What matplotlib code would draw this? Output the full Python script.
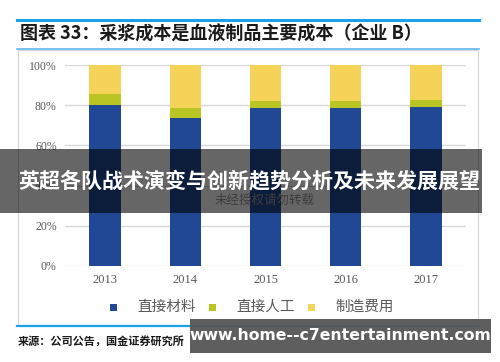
import matplotlib.pyplot as plt
from matplotlib.patches import Rectangle
from matplotlib.lines import Line2D

plt.rcParams['font.family'] = ['Noto Sans CJK SC', 'DejaVu Sans']

# -------- data ----------
years = ['2013', '2014', '2015', '2016', '2017']
direct_material = [80.0, 73.5, 78.8, 78.8, 79.3]   # 直接材料
direct_labor = [5.8, 5.3, 3.5, 3.5, 3.4]           # 直接人工
manufacturing = [14.2, 21.2, 17.7, 17.7, 17.3]      # 制造费用
series_names = ['直接材料', '直接人工', '制造费用']
colors = ['#204894', '#B9C522', '#F5D358']
yticks = [0, 20, 40, 60, 80, 100]

W, H = 500, 362
fig = plt.figure(figsize=(5, 3.62), dpi=100)


def fx(px):
    return px / W


def fy(py):
    return 1 - py / H


# -------- frame / header ----------
fig.add_artist(Line2D([fx(17), fx(479)], [fy(20), fy(20)], color='#1AA3E8', lw=2.2))
fig.add_artist(Line2D([fx(17), fx(479)], [fy(49), fy(49)], color='#5DB8EA', lw=1.2))
fig.add_artist(Rectangle((fx(18), fy(325)), fx(478) - fx(18), fy(50) - fy(325),
                         transform=fig.transFigure, fill=False, ec='#D6D6D6', lw=0.8))
fig.add_artist(Line2D([fx(17), fx(479)], [fy(325.5), fy(325.5)], color='#1AA3E8', lw=1.6))
fig.text(fx(20), fy(34), '图表 33：采浆成本是血液制品主要成本（企业 B）',
         fontsize=13, fontweight='bold', color='#1A1A1A', va='center', ha='left')
fig.text(fx(18), fy(341), '来源：公司公告，国金证券研究所',
         fontsize=8, fontweight='bold', color='#1A1A1A', va='center', ha='left')

# -------- chart ----------
ax = fig.add_axes([fx(65), fy(266), fx(466) - fx(65), fy(65) - fy(266)])
x = range(len(years))
bottom2 = [a + b for a, b in zip(direct_material, direct_labor)]
ax.bar(x, direct_material, width=0.39, color=colors[0], zorder=3)
ax.bar(x, direct_labor, width=0.39, bottom=direct_material, color=colors[1], zorder=3)
ax.bar(x, manufacturing, width=0.39, bottom=bottom2, color=colors[2], zorder=3)

ax.set_xlim(-0.5, len(years) - 0.5)
ax.set_ylim(0, 100)
ax.set_yticks(yticks)
ax.set_yticklabels([f'{v}%' for v in yticks], family='Liberation Serif', fontsize=8.5, color='#595959')
ax.set_xticks(list(x))
ax.set_xticklabels(years, family='Liberation Serif', fontsize=9, color='#595959')
ax.tick_params(length=0, pad=6)
ax.yaxis.grid(True, color='#D9D9D9', lw=1, zorder=0)
for s in ax.spines.values():
    s.set_visible(False)

# legend
leg_y = fy(307)
for px, name, c in zip([113, 212, 311], series_names, colors):
    fig.add_artist(Rectangle((fx(px - 3.5), leg_y - 3.5 / H), 7 / W, 7 / H,
                             transform=fig.transFigure, color=c, lw=0))
    fig.text(fx(px + 24), leg_y, name, fontsize=10.5, color='#595959', va='center', ha='left')

# watermark
fig.text(fx(265), fy(200), '未经授权请勿转载', fontsize=9, color='#9A9A9A',
         ha='center', va='center', zorder=2)

# -------- overlays ----------
fig.add_artist(Rectangle((0, fy(213)), fx(482), fy(149) - fy(213),
                         transform=fig.transFigure, color='black', alpha=0.6, lw=0, zorder=5))
fig.text(fx(249), fy(181), '英超各队战术演变与创新趋势分析及未来发展展望',
         fontsize=15.1, fontweight='bold', color='white', ha='center', va='center', zorder=6)

fig.add_artist(Rectangle((fx(190), fy(353)), fx(491) - fx(190), fy(319) - fy(353),
                         transform=fig.transFigure, color='#555555', alpha=0.95, lw=0, zorder=5))
fig.text(fx(340), fy(336), 'www.home--c7entertainment.com',
         fontsize=11.3, fontweight='bold', color='white', ha='center', va='center',
         family='DejaVu Sans', zorder=6)

fig.savefig('out.png', dpi=100)
